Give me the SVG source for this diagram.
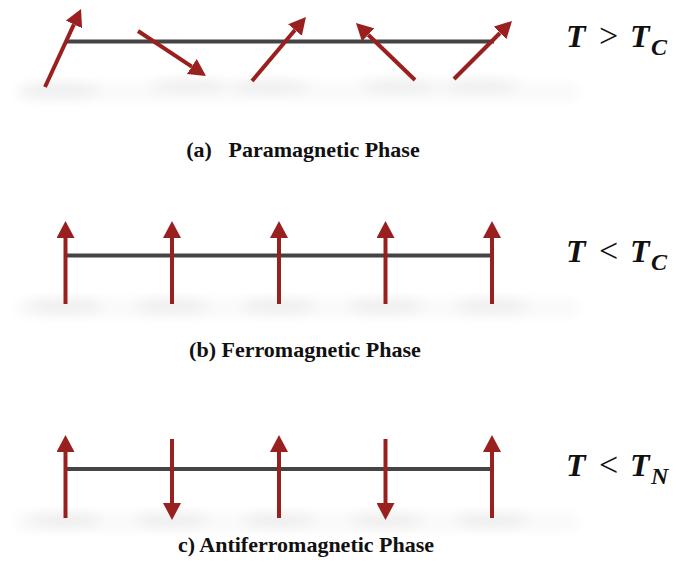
<svg xmlns="http://www.w3.org/2000/svg" width="673" height="582" viewBox="0 0 673 582">
<defs>
<marker id="ah" viewBox="0 0 17 18" refX="0" refY="9" markerWidth="17" markerHeight="18" markerUnits="userSpaceOnUse" orient="auto">
<path d="M0,0 L17,9 L0,18 z" fill="#9a1f1f"/>
</marker>
<filter id="blur" x="-50%" y="-300%" width="200%" height="700%"><feGaussianBlur stdDeviation="7"/></filter>
<filter id="blur2" x="-20%" y="-100%" width="140%" height="300%"><feGaussianBlur stdDeviation="6"/></filter>
<style>
.chain{stroke:#444;stroke-width:4;fill:none}
.spin{stroke:#9a1f1f;stroke-width:4;fill:none;marker-end:url(#ah)}
.shadow{fill:#000;opacity:0.07;filter:url(#blur)}
.band{fill:#000;opacity:0.02;filter:url(#blur2)}
.cap{font-family:"Liberation Serif",serif;font-weight:bold;font-size:22px;fill:#111;text-anchor:middle}
.temp{font-family:"Liberation Serif",serif;font-weight:bold;font-style:italic;font-size:32px;fill:#111}
.rel{font-style:normal;font-weight:normal;font-size:34px}
.sub{font-size:24px}
</style>
</defs>
<g id="shadows">
<rect class="band" x="14" y="82" width="566" height="20" rx="10"/>
<rect class="band" x="14" y="298" width="566" height="20" rx="10"/>
<rect class="band" x="14" y="512" width="566" height="20" rx="10"/>
<ellipse class="shadow" cx="60" cy="90" rx="40" ry="5"/>
<ellipse class="shadow" cx="190" cy="85" rx="40" ry="5"/>
<ellipse class="shadow" cx="270" cy="86" rx="40" ry="5"/>
<ellipse class="shadow" cx="400" cy="85" rx="40" ry="5"/>
<ellipse class="shadow" cx="480" cy="85" rx="40" ry="5"/>
<ellipse class="shadow" cx="65" cy="306" rx="38" ry="5"/>
<ellipse class="shadow" cx="172" cy="306" rx="38" ry="5"/>
<ellipse class="shadow" cx="279" cy="306" rx="38" ry="5"/>
<ellipse class="shadow" cx="386" cy="306" rx="38" ry="5"/>
<ellipse class="shadow" cx="492" cy="306" rx="38" ry="5"/>
<ellipse class="shadow" cx="65" cy="520" rx="38" ry="5"/>
<ellipse class="shadow" cx="172" cy="520" rx="38" ry="5"/>
<ellipse class="shadow" cx="279" cy="520" rx="38" ry="5"/>
<ellipse class="shadow" cx="386" cy="520" rx="38" ry="5"/>
<ellipse class="shadow" cx="492" cy="520" rx="38" ry="5"/>
</g>
<g id="connectors">
<line class="chain" x1="66" y1="41.5" x2="494" y2="41.5"/>
<line class="chain" x1="66" y1="255.5" x2="492" y2="255.5"/>
<line class="chain" x1="66" y1="469" x2="492" y2="469"/>
</g>
<g id="panel-a">
<line class="spin" x1="45" y1="87" x2="73.9" y2="24.4"/>
<line class="spin" x1="138" y1="31" x2="191.8" y2="66.6"/>
<line class="spin" x1="252" y1="81" x2="295" y2="30"/>
<line class="spin" x1="415" y1="80" x2="368.2" y2="34.8"/>
<line class="spin" x1="454" y1="79" x2="500" y2="33"/>
<text class="temp" y="47"><tspan x="566">T</tspan><tspan class="rel" x="599">&gt;</tspan><tspan x="630">T</tspan><tspan class="sub" x="651" dy="8">C</tspan></text>
<text class="cap" x="303" y="157" xml:space="preserve">(a)   Paramagnetic Phase</text>
</g>
<g id="panel-b">
<line class="spin" x1="65.5" y1="304" x2="65.5" y2="238"/>
<line class="spin" x1="172" y1="304" x2="172" y2="238"/>
<line class="spin" x1="279" y1="304" x2="279" y2="238"/>
<line class="spin" x1="385.5" y1="304" x2="385.5" y2="238"/>
<line class="spin" x1="492" y1="304" x2="492" y2="238"/>
<text class="temp" y="262"><tspan x="566">T</tspan><tspan class="rel" x="599">&lt;</tspan><tspan x="630">T</tspan><tspan class="sub" x="651" dy="8">C</tspan></text>
<text class="cap" x="305" y="357">(b) Ferromagnetic Phase</text>
</g>
<g id="panel-c">
<line class="spin" x1="65.5" y1="518" x2="65.5" y2="452"/>
<line class="spin" x1="172" y1="439" x2="172" y2="503"/>
<line class="spin" x1="279" y1="518" x2="279" y2="452"/>
<line class="spin" x1="385.5" y1="439" x2="385.5" y2="503"/>
<line class="spin" x1="492" y1="518" x2="492" y2="452"/>
<text class="temp" y="476"><tspan x="566">T</tspan><tspan class="rel" x="599">&lt;</tspan><tspan x="630">T</tspan><tspan class="sub" x="651" dy="8">N</tspan></text>
<text class="cap" x="306" y="552">c) Antiferromagnetic Phase</text>
</g>
</svg>
